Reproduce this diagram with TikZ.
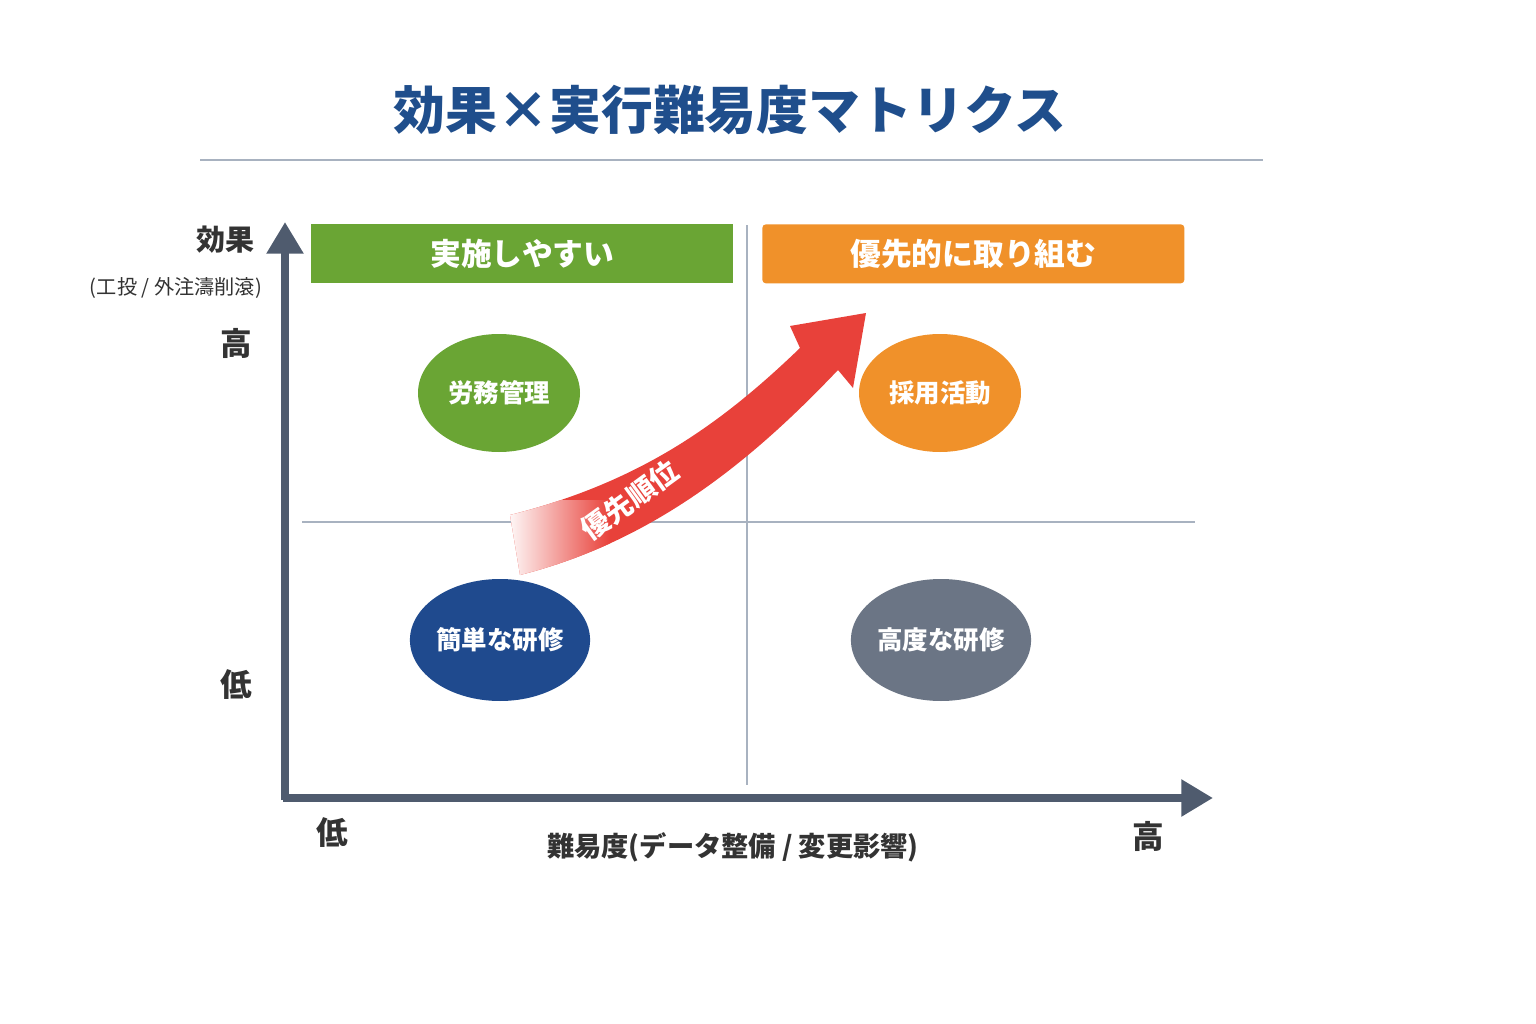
\documentclass[tikz,border=0pt]{standalone}
\usepackage{fontspec}
\setmainfont{Noto Sans CJK JP}
\begin{document}
\begin{tikzpicture}[x=0.02cm,y=-0.02cm,
  hdr/.style={minimum width=422*0.02cm,minimum height=59*0.02cm,inner sep=0,text=white,font=\bfseries\fontsize{17.5}{20}\selectfont},
  blob/.style={ellipse,minimum width=162*0.02cm,minimum height=118*0.02cm,inner sep=0,text=white,font=\bfseries\fontsize{14.5}{17}\selectfont},
  axl/.style={font=\bfseries\fontsize{18}{21}\selectfont,text=black!80},
  axis/.style={line width=4.5pt,draw=axc}]
\usetikzlibrary{shapes.geometric,arrows.meta}
\definecolor{navy}{HTML}{1F4E8C}
\definecolor{grn}{HTML}{6AA534}
\definecolor{org}{HTML}{F0912A}
\definecolor{bl}{HTML}{1F4A8E}
\definecolor{gy}{HTML}{6B7585}
\definecolor{axc}{HTML}{4F5B6E}
\definecolor{dv}{HTML}{A8B2C0}
\definecolor{rd}{HTML}{E8413A}
\useasboundingbox[fill=white] (0,0) rectangle (1536,1024);
\node[font=\bfseries\fontsize{29.5}{34}\selectfont,text=navy] (title) at (730,110) {効果×実行難易度マトリクス};
\draw[dv,line width=1pt] (200,160) -- (1263,160);
% dividers
\coordinate (vt) at (747,225); \coordinate (vb) at (747,785);
\coordinate (hl) at (302,522); \coordinate (hr) at (1195,522);
\draw[dv,line width=1.5pt] (vt) -- (vb);
\draw[dv,line width=1.5pt] (hl) -- (hr);
% axes
\coordinate (yt) at (285,222); \coordinate (xr) at (1213,798);
\draw[axis,-{Triangle[length=18pt,width=20pt]}] (285,800) -- (yt);
\draw[axis,-{Triangle[length=18pt,width=20pt]}] (283,798) -- (xr);
% headers
\node[hdr,fill=grn,anchor=north west] (h1) at (311,224) {実施しやすい};
\node[hdr,fill=org,anchor=north west,rounded corners=2pt] (h2) at (762,224) {優先的に取り組む};
% ellipses
\node[blob,fill=grn] (e1) at (499,393) {労務管理};
\node[blob,fill=org] (e2) at (940,393) {採用活動};
\node[blob,fill=bl,minimum width=166*0.02cm,minimum height=122*0.02cm] (e3) at (500,640) {簡単な研修};
\node[blob,fill=gy,minimum width=168*0.02cm,minimum height=122*0.02cm] (e4) at (941,640) {高度な研修};
% axis labels
\node[axl,font=\bfseries\fontsize{16.5}{19}\selectfont] (ef) at (225,240) {効果};
\node[font=\fontsize{11.5}{13}\selectfont,text=black!80] (efs) at (176,288) {(工投 / 外注濤削滾)};
\node[axl] (yh) at (236,343) {高};
\node[axl] (yl) at (236,685) {低};
\node[axl] (xl) at (332,833) {低};
\node[axl] (xh) at (1148,836) {高};
\node[font=\bfseries\fontsize{15.5}{18}\selectfont,text=black!80] (xlab) at (733,847) {難易度(データ整備 / 変更影響)};
% red arrow
\def\arr{(510,515) .. controls (640,482) and (720,425) .. (800,348) -- (790,326) -- (866,313) -- (853,388) -- (838,370) .. controls (760,452) and (660,540) .. (520,575) -- cycle}
\fill[rd] \arr;
\begin{scope}
\clip \arr;
\shade[left color=white,right color=rd] (505,500) rectangle (610,590);
\end{scope}
\node[rotate=36,text=white,font=\bfseries\fontsize{16}{19}\selectfont] (pr) at (630,500) {優先順位};
\end{tikzpicture}
\end{document}
